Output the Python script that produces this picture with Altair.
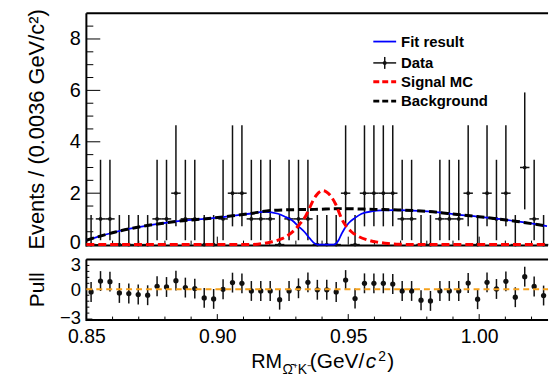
import altair as alt
import pandas as pd

FONT = "Liberation Sans"
XMIN, XMAX = 0.85, 1.0263
BIN_W = 0.0036
W, H_TOP, H_PULL = 465, 233, 60

# Events per 0.0036 GeV/c^2 bin, starting at 0.85
counts = [0, 1, 1, 0, 0, 0, 0, 1, 1, 2,
          1, 1, 0, 0, 1, 2, 2, 1, 1, 1,
          0, 1, 1, 1, 0, 0, 0, 2, 0, 2,
          2, 2, 2, 1, 1, 0, 0, 1, 1, 1,
          2, 0, 2, 1, 2, 0, 3, 1, 0]

# Pull of each bin with respect to the fit
pulls = [-0.27, 0.83, 0.77, -0.37, -0.43, -0.53, -0.60, 0.30, 0.23, 0.87,
         0.17, 0.07, -0.87, -0.97, 0.00, 0.67, 0.60, -0.17, -0.17, -0.17,
         -1.05, -0.17, 0.10, 0.70, -0.05, -0.05, -0.27, 0.93, -0.93, 0.60,
         0.60, 0.60, 0.53, -0.17, -0.17, -1.10, -1.17, -0.17, -0.17, -0.17,
         0.63, -1.00, 0.70, 0.03, 0.80, -0.80, 1.27, 0.28, -0.63]

# Asymmetric Poisson error bars by bin content
POISSON_LO = {0: 0.0, 1: 0.17, 2: 0.71, 3: 1.37}
POISSON_HI = {0: 1.15, 1: 3.30, 2: 4.64, 3: 5.92}

# Background shape
bg_x = [0.8500, 0.8553, 0.8611, 0.8667, 0.8738, 0.8799, 0.8851, 0.8940, 0.9043,
        0.9122, 0.9208, 0.9296, 0.9372, 0.9474, 0.9602, 0.9690, 0.9804, 0.9918,
        1.0032, 1.0145, 1.0259]
bg_y = [0.17, 0.33, 0.49, 0.62, 0.75, 0.84, 0.91, 0.99, 1.10,
        1.20, 1.33, 1.36, 1.37, 1.40, 1.37, 1.35, 1.29, 1.17,
        1.05, 0.90, 0.72]

# Total fit result
fit_x = [0.8500, 0.8553, 0.8611, 0.8667, 0.8738, 0.8799, 0.8851, 0.8940, 0.9043,
         0.9122, 0.9182, 0.9232, 0.9262, 0.9285, 0.9311, 0.9334, 0.9353, 0.9372,
         0.9383, 0.9444, 0.9463, 0.9475, 0.9501, 0.9526, 0.9551, 0.9589, 0.9627,
         0.9678, 0.9728, 0.9804, 0.9918, 1.0032, 1.0145, 1.0259]
fit_y = [0.17, 0.33, 0.49, 0.62, 0.75, 0.84, 0.91, 0.99, 1.10,
         1.20, 1.27, 1.20, 1.07, 0.95, 0.70, 0.48, 0.24, 0.04,
         0.00, 0.00, 0.17, 0.43, 0.83, 1.04, 1.20, 1.29, 1.33,
         1.34, 1.33, 1.29, 1.17, 1.05, 0.90, 0.72]

# Signal MC shape
sig_x = [0.8500, 0.9122, 0.9167, 0.9205, 0.9247, 0.9273, 0.9296, 0.9315, 0.9334,
         0.9349, 0.9364, 0.9379, 0.9394, 0.9404, 0.9417, 0.9436, 0.9451, 0.9463,
         0.9474, 0.9493, 0.9512, 0.9539, 0.9577, 0.9615, 0.9652, 0.9709, 0.9766,
         1.0262]
sig_y = [0.00, 0.00, 0.03, 0.10, 0.23, 0.38, 0.58, 0.80, 1.05,
         1.35, 1.68, 1.93, 2.07, 2.10, 2.05, 1.85, 1.59, 1.30,
         1.02, 0.70, 0.50, 0.32, 0.17, 0.09, 0.04, 0.01, 0.00,
         0.00]

top_y_major = [0, 2, 4, 6, 8]
top_y_minor = [0.5, 1, 1.5, 2.5, 3, 3.5, 4.5, 5, 5.5, 6.5, 7, 7.5, 8.5]
x_major = [0.85, 0.90, 0.95, 1.00]
x_minor = [0.86, 0.87, 0.88, 0.89, 0.91, 0.92, 0.93, 0.94,
           0.96, 0.97, 0.98, 0.99, 1.01, 1.02]
pull_y_major = [-3, 0, 3]
pull_y_minor = [-2.4, -1.8, -1.2, -0.6, 0.6, 1.2, 1.8, 2.4]

centers = [XMIN + BIN_W * (i + 0.5) for i in range(len(counts))]
data = pd.DataFrame({
    "x": centers,
    "xlo": [c - BIN_W / 2 for c in centers],
    "xhi": [c + BIN_W / 2 for c in centers],
    "n": counts,
    "lo": [POISSON_LO[n] for n in counts],
    "hi": [POISSON_HI[n] for n in counts],
    "pull": pulls,
    "plo": [p - 1 for p in pulls],
    "phi": [p + 1 for p in pulls],
})
bg = pd.DataFrame({"x": bg_x, "y": bg_y})
fit = pd.DataFrame({"x": fit_x, "y": fit_y})
sig = pd.DataFrame({"x": sig_x, "y": sig_y})
one = pd.DataFrame({"k": [0]})

x_scale = alt.Scale(domain=[XMIN, XMAX], nice=False, zero=False)
y_top_scale = alt.Scale(domain=[0, 9], nice=False, zero=False)
y_pull_scale = alt.Scale(domain=[-3, 3], nice=False, zero=False)

ax_top_y = alt.Axis(values=top_y_major, title="Events / (0.0036 GeV/c²)",
                    grid=False, ticks=False, tickSize=0, domain=False,
                    labelFont=FONT, labelFontSize=20, labelColor="black",
                    labelPadding=6, labelFlush=False, labelOverlap=False,
                    labelOffset={"condition": {"test": "datum.value == 0", "value": -2},
                                 "value": 0},
                    titleFont=FONT, titleFontSize=22, titleFontWeight="normal",
                    titleColor="black", titleX=-43, titleBaseline="alphabetic")
ax_pull_y = alt.Axis(values=pull_y_major, title="Pull",
                     grid=False, ticks=False, tickSize=0, domain=False,
                     labelFont=FONT, labelFontSize=18.5, labelColor="black",
                     labelPadding=6, labelFlush=False, labelOverlap=False,
                     labelOffset={"condition": [
                         {"test": "datum.value > 0", "value": 5},
                         {"test": "datum.value < 0", "value": -2}],
                         "value": 0},
                     titleFont=FONT, titleFontSize=21, titleFontWeight="normal",
                     titleColor="black", titleX=-43, titleBaseline="alphabetic")
ax_pull_x = alt.Axis(values=x_major, format=".2f", title="",
                     grid=False, ticks=False, tickSize=0, domain=False,
                     labelFont=FONT, labelFontSize=19.5, labelColor="black",
                     labelPadding=9, labelFlush=False, labelOverlap=False)

X_TOP = lambda f: alt.X(f, type="quantitative", scale=x_scale, axis=None)
Y_TOP = lambda f: alt.Y(f, type="quantitative", scale=y_top_scale, axis=ax_top_y)
X_PULL = lambda f: alt.X(f, type="quantitative", scale=x_scale, axis=ax_pull_x)
Y_PULL = lambda f: alt.Y(f, type="quantitative", scale=y_pull_scale, axis=ax_pull_y)

INK = "#111111"

# ---------- upper panel: data and fit ----------
err = alt.Chart(data).mark_rule(color=INK, strokeWidth=1.5).encode(
    x=X_TOP("x"), y=Y_TOP("lo"), y2="hi")
hbar = alt.Chart(data).mark_rule(color=INK, strokeWidth=1.5).encode(
    x=X_TOP("xlo"), x2="xhi", y=Y_TOP("n"))
pts = alt.Chart(data).mark_circle(color=INK, size=14, opacity=1).encode(
    x=X_TOP("x"), y=Y_TOP("n"))
fit_line = alt.Chart(fit).mark_line(color="#0000ff", strokeWidth=1.8,
                                    interpolate="monotone").encode(
    x=X_TOP("x"), y=Y_TOP("y"))
sig_line = alt.Chart(sig).mark_line(color="#ff0000", strokeWidth=3,
                                    strokeDash=[8, 4],
                                    interpolate="monotone").encode(
    x=X_TOP("x"), y=Y_TOP("y"))
bg_line = alt.Chart(bg).mark_line(color="black", strokeWidth=3,
                                  strokeDash=[8, 4],
                                  interpolate="monotone").encode(
    x=X_TOP("x"), y=Y_TOP("y"))


def yticks(vals, length, yfun):
    return alt.Chart(pd.DataFrame({"v": vals})).mark_rule(
        color="black", strokeWidth=1).encode(
        y=yfun("v"), x=alt.value(0), x2=alt.value(length))


def xticks(vals, length, xfun, h):
    return alt.Chart(pd.DataFrame({"v": vals})).mark_rule(
        color="black", strokeWidth=1).encode(
        x=xfun("v"), y=alt.value(h), y2=alt.value(h - length))


def frame(h):
    left = alt.Chart(one).mark_rule(color="black", strokeWidth=2).encode(
        x=alt.value(0), y=alt.value(0), y2=alt.value(h + 2))
    top = alt.Chart(one).mark_rule(color="black", strokeWidth=2).encode(
        x=alt.value(0), x2=alt.value(W), y=alt.value(0))
    bottom = alt.Chart(one).mark_rule(color="black", strokeWidth=2).encode(
        x=alt.value(0), x2=alt.value(W), y=alt.value(h + 1))
    return [left, top, bottom]


# legend
LX0, LX1, LT = 289, 312, 317
legend_rows = [("Fit result", 28.5), ("Data", 50), ("Signal MC", 69), ("Background", 88.5)]
legend = []
for label, ly in legend_rows:
    legend.append(alt.Chart(one).mark_text(
        text=label, font=FONT, fontSize=15, fontWeight="bold", align="left",
        baseline="middle", color="black").encode(x=alt.value(LT), y=alt.value(ly)))
legend.append(alt.Chart(one).mark_rule(color="#0000ff", strokeWidth=1.8).encode(
    x=alt.value(LX0), x2=alt.value(LX1), y=alt.value(28.5)))
legend.append(alt.Chart(one).mark_rule(color=INK, strokeWidth=1.5).encode(
    x=alt.value(LX0), x2=alt.value(LX1), y=alt.value(50)))
legend.append(alt.Chart(one).mark_rule(color=INK, strokeWidth=1.5).encode(
    x=alt.value((LX0 + LX1) / 2), y=alt.value(44), y2=alt.value(56)))
legend.append(alt.Chart(one).mark_circle(color=INK, size=16, opacity=1).encode(
    x=alt.value((LX0 + LX1) / 2), y=alt.value(50)))
legend.append(alt.Chart(one).mark_rule(color="#ff0000", strokeWidth=3,
                                       strokeDash=[6, 3]).encode(
    x=alt.value(LX0), x2=alt.value(LX1), y=alt.value(69)))
legend.append(alt.Chart(one).mark_rule(color="black", strokeWidth=3,
                                       strokeDash=[6, 3]).encode(
    x=alt.value(LX0), x2=alt.value(LX1), y=alt.value(88.5)))

upper = alt.layer(
    *frame(H_TOP),
    yticks(top_y_major, 14, Y_TOP), yticks(top_y_minor, 7, Y_TOP),
    xticks(x_major, 8, X_TOP, H_TOP), xticks(x_minor, 4, X_TOP, H_TOP),
    err, hbar, pts, fit_line, bg_line, sig_line,
    *legend,
).properties(width=W, height=H_TOP)

# ---------- lower panel: pulls ----------
perr = alt.Chart(data).mark_rule(color=INK, strokeWidth=1.5).encode(
    x=X_PULL("x"), y=Y_PULL("plo"), y2="phi")
ppts = alt.Chart(data).mark_circle(color=INK, size=28, opacity=1).encode(
    x=X_PULL("x"), y=Y_PULL("pull"))
zero = alt.Chart(pd.DataFrame({"x": [XMIN, XMAX], "y": [0, 0]})).mark_line(
    color="#f5a11c", strokeWidth=2, strokeDash=[6, 4]).encode(
    x=X_PULL("x"), y=Y_PULL("y"))


def title_part(text, x, y, size, style="normal"):
    return alt.Chart(one).mark_text(
        text=text, font=FONT, fontSize=size, fontStyle=style, align="left",
        baseline="alphabetic", color="black").encode(x=alt.value(x), y=alt.value(y))


# x-axis title: RM with Omega-bar K subscript, then the unit
x_title = [
    title_part("RM", 166, 109.5, 20),
    title_part("Ω̄⁺K⁻", 197.5, 115, 14),
    title_part("(GeV/", 225, 109.5, 21),
    title_part("c", 281.5, 109.5, 21, "italic"),
    title_part("2", 294, 102, 14),
    title_part(")", 303, 109.5, 21),
]

lower = alt.layer(
    *frame(H_PULL),
    yticks(pull_y_major, 6, Y_PULL), yticks(pull_y_minor, 3, Y_PULL),
    xticks(x_major, 5, X_PULL, H_PULL), xticks(x_minor, 2.5, X_PULL, H_PULL),
    perr, ppts, zero, *x_title,
).properties(width=W, height=H_PULL)

chart = alt.vconcat(upper, lower, spacing=15, bounds="flush").resolve_scale(
    x="independent", y="independent"
).properties(
    padding={"left": 25, "top": 7, "right": 0, "bottom": 0},
    background="white",
).configure_view(strokeWidth=0)

chart.save("out.html", embed_options={"renderer": "svg", "actions": False})
